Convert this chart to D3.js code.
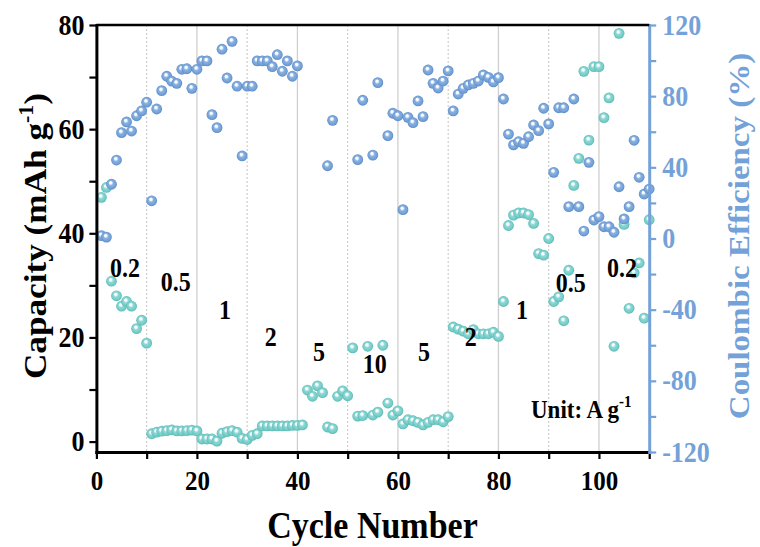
<!DOCTYPE html>
<html><head><meta charset="utf-8">
<script src="https://cdn.jsdelivr.net/npm/d3@7"></script>
<style>body{margin:0;background:#fff} svg{display:block}</style>
</head><body>
<svg id="chart" width="760" height="547"></svg>
<script>
// ---------------- data ----------------
const cycles = d3.range(1, 111);
const capacity = [46.9,48.8,30.8,28.0,26.0,26.9,26.0,21.7,23.3,18.9,
  1.5,1.8,2.0,2.1,2.25,2.05,2.05,2.1,2.2,2.05,
  0.5,0.5,0.5,0.1,1.6,1.9,2.1,1.8,0.6,0.4,
  1.2,1.5,3.0,3.0,3.0,3.0,3.0,3.0,3.1,3.1,
  3.2,9.9,8.7,10.7,9.4,2.8,2.5,8.7,9.75,8.8,
  18.0,4.9,5.0,18.3,5.1,5.65,18.5,7.4,5.1,5.9,
  3.4,4.2,4.0,3.7,3.2,3.7,4.2,4.2,3.8,4.8,
  22.0,21.6,21.2,20.7,21.5,20.7,20.7,20.7,21.0,20.2,
  26.9,41.5,43.5,43.9,43.9,43.6,41.9,36.1,35.8,39.0,
  26.9,27.8,23.2,32.9,49.2,54.4,71.1,57.9,72.0,72.0,
  62.2,66.0,18.3,78.4,41.7,25.6,32.4,34.3,23.7,42.6];
const efficiency = [1.6,0.8,30.5,44.1,59.5,65.5,60.4,69.0,71.7,76.6,
  21.2,72.8,83.1,91.2,88.4,87.2,95.1,95.4,84.4,95.1,
  99.8,99.8,69.6,62.3,106.4,90.2,110.8,85.6,46.4,85.6,
  85.6,99.8,99.8,99.8,96.6,103.3,94.0,99.8,91.2,97.0,
  null,null,null,null,null,40.9,66.4,null,null,null,
  null,44.3,77.7,null,46.9,87.6,null,57.8,70.4,69.0,
  16.2,68.1,65.1,77.3,68.5,94.7,87.2,84.6,88.5,94.2,
  71.7,81.2,84.4,86.3,87.2,88.5,91.9,90.6,88.0,90.4,
  78.4,58.7,52.6,54.4,53.5,57.2,63.8,60.6,73.2,64.4,
  37.2,73.5,73.5,17.9,78.4,17.9,4.2,42.8,10.4,12.3,
  6.6,6.6,3.5,29.1,11.0,17.9,55.2,34.4,25.0,27.8];
const xTicks = d3.range(0, 111, 10);
const xTickLabels = [0, 20, 40, 60, 80, 100];
const leftTicks = d3.range(0, 81, 10);
const leftTickLabels = [0, 20, 40, 60, 80];
const rightTicks = d3.range(-120, 121, 20);
const rightTickLabels = [-120, -80, -40, 0, 40, 80, 120];
const rateLabels = ["0.2","0.5","1","2","5","10","5","2","1","0.5","0.2"];

// ---------------- layout ----------------
const rateLabelPos = [[5.7,31.6],[15.8,28.9],[25.6,23.6],[34.7,18.4],[44.3,15.5],[55.4,13.2],
  [65.2,15.5],[74.5,18.3],[84.7,23.6],[94.4,28.7],[104.6,31.6]];
const SY = 1.1; // vertical stretch of glyphs in the reference
const FONT = "'Liberation Serif','Times New Roman',serif";
const BLUE = "#74a2d8";
const L = 96.4, R = 649.2, T = 25, B = 452;

const svg = d3.select("#chart");
const x = d3.scaleLinear().domain([0, 110]).range([L, R]);
const yL = d3.scaleLinear().domain([-2, 80]).range([B, T]);
const yR = d3.scaleLinear().domain([-120, 120]).range([B, T]);

// gradients
const defs = svg.append("defs");
function ball(id, c0, c1, c2) {
  const g = defs.append("radialGradient").attr("id", id)
    .attr("cx", "50%").attr("cy", "50%").attr("r", "50%").attr("fx", "40%").attr("fy", "32%");
  g.append("stop").attr("offset", "0%").attr("stop-color", "#ffffff");
  g.append("stop").attr("offset", "22%").attr("stop-color", "#f4fbff");
  g.append("stop").attr("offset", "45%").attr("stop-color", c0);
  g.append("stop").attr("offset", "80%").attr("stop-color", c1);
  g.append("stop").attr("offset", "100%").attr("stop-color", c2);
}
ball("gBlue", "#8ab1e0", "#72a0d7", "#5d8bc6");
ball("gTeal", "#8ed8d4", "#74ccc7", "#5ab9b4");

// grid lines
svg.append("g").selectAll("line").data(d3.range(10, 101, 10)).join("line")
  .attr("x1", d => x(d)).attr("x2", d => x(d)).attr("y1", T).attr("y2", B)
  .attr("stroke", d => d % 20 === 0 ? "#cfcfcf" : "#c4c4c4")
  .attr("stroke-width", d => d % 20 === 0 ? 1.3 : 1)
  .attr("stroke-dasharray", d => d % 20 === 0 ? null : "2,2");

// data points
const data = cycles.map((c, i) => ({c, cap: capacity[i], ce: efficiency[i]}));
svg.append("g").selectAll("circle").data(data.filter(d => d.cap != null)).join("circle")
  .attr("cx", d => x(d.c)).attr("cy", d => yL(d.cap)).attr("r", 5.4)
  .attr("fill", "url(#gTeal)");
svg.append("g").selectAll("circle").data(data.filter(d => d.ce != null)).join("circle")
  .attr("cx", d => x(d.c)).attr("cy", d => yR(d.ce)).attr("r", 5.4)
  .attr("fill", "url(#gBlue)");

// axes
function styleAxis(g, color, size) {
  g.select(".domain").attr("stroke", color).attr("stroke-width", 3).attr("stroke-linecap", "square");
  g.selectAll(".tick line").attr("stroke", color).attr("stroke-width", 2.2);
  g.selectAll(".tick text").attr("fill", color).attr("font-family", FONT)
    .attr("font-weight", "bold").attr("font-size", size)
    .attr("transform", `scale(1,${SY})`);
}
const gx = svg.append("g").attr("transform", `translate(0,${B})`)
  .call(d3.axisBottom(x).tickValues(xTicks).tickSize(7).tickSizeOuter(0).tickPadding(10)
    .tickFormat(d => xTickLabels.includes(d) ? d : ""));
styleAxis(gx, "#000", 25);
const gl = svg.append("g").attr("transform", `translate(${L},0)`)
  .call(d3.axisLeft(yL).tickValues(leftTicks).tickSize(7).tickSizeOuter(0).tickPadding(5)
    .tickFormat(d => leftTickLabels.includes(d) ? d : ""));
styleAxis(gl, "#000", 26);
const gr = svg.append("g").attr("transform", `translate(${R},0)`)
  .call(d3.axisRight(yR).tickValues(rightTicks).tickSize(7).tickSizeOuter(0).tickPadding(6)
    .tickFormat(d => rightTickLabels.includes(d) ? d : ""));
styleAxis(gr, BLUE, 26);
// top frame
svg.append("line").attr("x1", L).attr("x2", R).attr("y1", T).attr("y2", T)
  .attr("stroke", "#000").attr("stroke-width", 2.6);

// text helper
function txt(xp, yp, rot, size, color, anchor) {
  return svg.append("text")
    .attr("transform", `translate(${xp},${yp}) scale(1,${SY})` + (rot ? ` rotate(${rot})` : ""))
    .attr("font-family", FONT).attr("font-weight", "bold").attr("font-size", size)
    .attr("fill", color).attr("text-anchor", anchor || "middle");
}
// axis titles
txt(372.5, 538, 0, 34, "#000").text("Cycle Number");
const cl = txt(46, 236, -90, 32, "#000");
cl.append("tspan").text("Capacity (mAh g");
cl.append("tspan").attr("font-size", 20).attr("dy", -13).text("-1");
cl.append("tspan").attr("dy", 13).text(")");
txt(749, 236, -90, 30, BLUE).text("Coulombic Efficiency (%)");

// rate labels
rateLabels.forEach((s, i) => {
  txt(x(rateLabelPos[i][0]), yL(rateLabelPos[i][1]), 0, 24, "#000").text(s);
});
const u = txt(531, 418, 0, 23, "#000", "start");
u.append("tspan").text("Unit: A g");
u.append("tspan").attr("font-size", 15).attr("dy", -10).text("-1");
</script>
</body></html>
